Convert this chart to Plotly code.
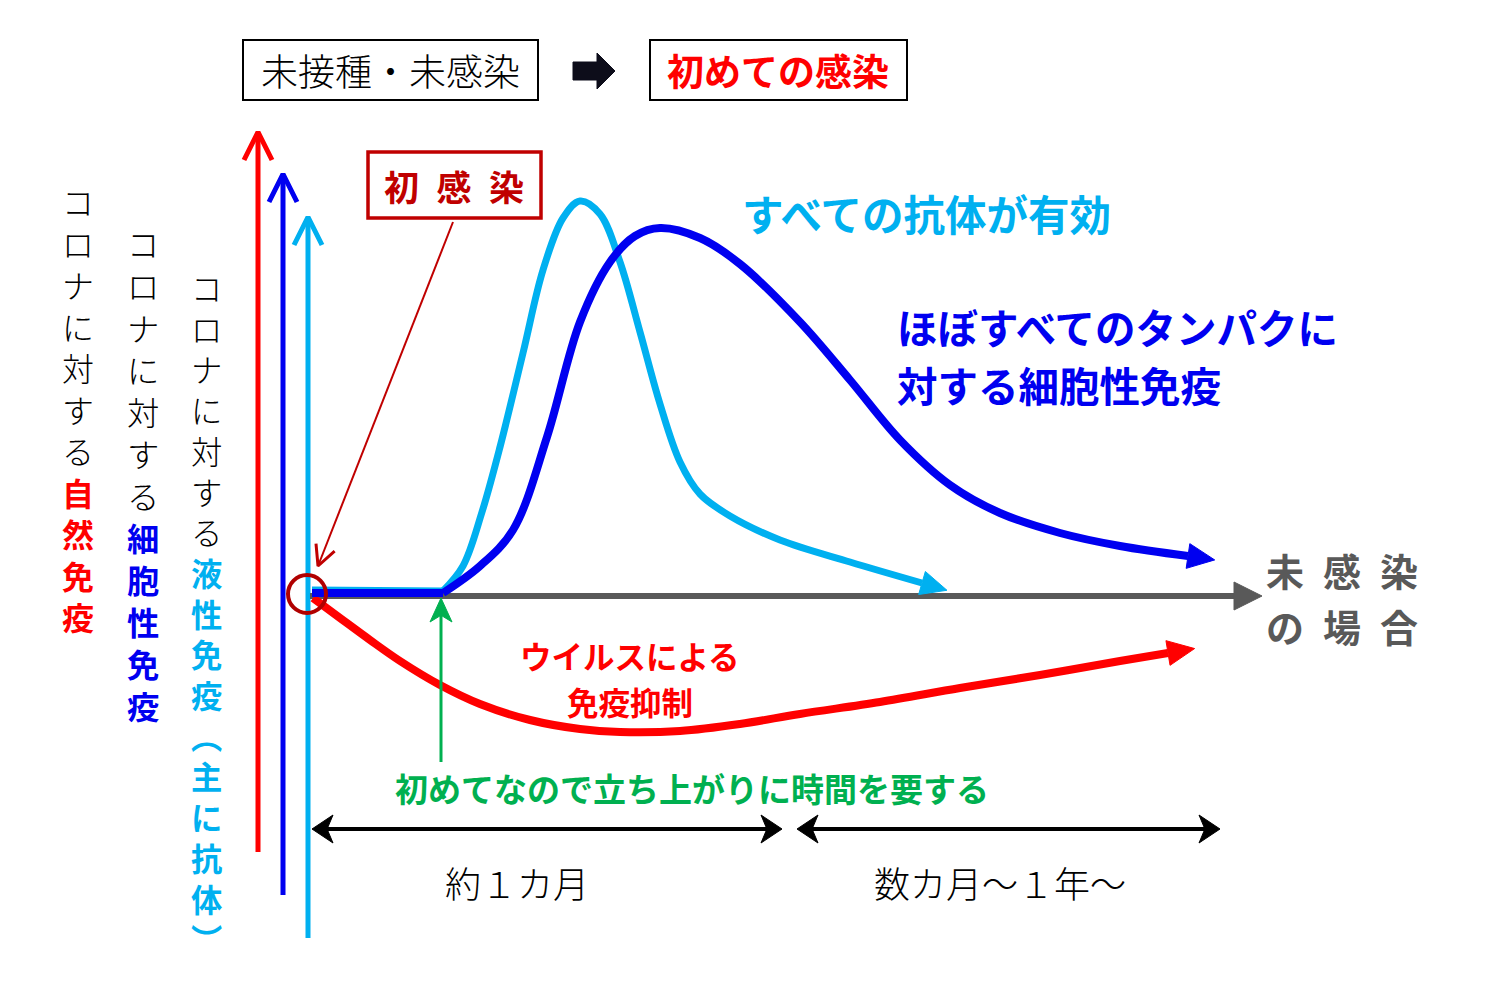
import math
import plotly.graph_objects as go

W, H = 1499, 999
FONT = "Noto Sans CJK JP"

# ---- data (diagram coordinates: x = time axis px, y = level px, y grows downward) ----
# humoral immunity (antibody) curve; the first ONSET points are the flat lag phase
antibody_x = [312, 443, 463, 482, 500, 523, 543, 563, 580, 600, 620, 640, 660, 680, 700, 730, 780, 850, 922]
antibody_y = [590, 591, 566, 512, 447, 353, 270, 218, 201, 214, 262, 332, 404, 462, 494, 516, 540, 562, 583]

# cellular immunity curve
cellular_x = [312, 443, 480, 513, 547, 580, 610, 635, 660, 700, 740, 800, 850, 900, 950, 1000, 1060, 1120, 1188]
cellular_y = [593, 593, 566, 530, 437, 322, 262, 236, 228, 238, 264, 322, 380, 440, 485, 513, 533, 546, 556]
ONSET = 2  # number of leading points forming the straight lag segment

# innate immunity (suppressed by the virus)
innate_x = [313, 340, 370, 400, 440, 480, 530, 580, 620, 680, 740, 800, 880, 960, 1040, 1120, 1168]
innate_y = [598, 618, 640, 661, 685, 704, 720, 729, 732, 731, 724, 714, 702, 688, 675, 661, 653]

time_axis_x = [310, 1234]
time_axis_y = [596, 596]

# vertical value axes: (x, bottom, top)
axis_red = [258, 852, 132]
axis_blue = [283, 895, 174]
axis_lblue = [308, 938, 217]

span1 = [312, 782]
span2 = [797, 1220]
span_y = 829

RED = "#FF0000"
BLUE = "#0000F0"
LBLUE = "#00B0F0"
DRED = "#C00000"
GRAY = "#595959"
GREEN = "#00B050"

fig = go.Figure()


def add_line(xs, ys, color, width, shape="linear"):
    fig.add_trace(go.Scatter(x=xs, y=ys, mode="lines", hoverinfo="skip",
                             line=dict(color=color, width=width, shape=shape, smoothing=1.0)))


def add_poly(xs, ys, color):
    fig.add_trace(go.Scatter(x=xs + [xs[0]], y=ys + [ys[0]], mode="lines", fill="toself",
                             fillcolor=color, hoverinfo="skip", line=dict(color=color, width=1)))


def unit(x0, y0, x1, y1):
    d = math.hypot(x1 - x0, y1 - y0)
    return (x1 - x0) / d, (y1 - y0) / d


def tri_head(x0, y0, x1, y1, length, half, color):
    ux, uy = unit(x0, y0, x1, y1)
    px, py = -uy, ux
    tx, ty = x1 + ux * length, y1 + uy * length
    add_poly([x1 + px * half, tx, x1 - px * half], [y1 + py * half, ty, y1 - py * half], color)


def stealth_head(x0, y0, tx, ty, length, half, color):
    ux, uy = unit(x0, y0, tx, ty)
    px, py = -uy, ux
    bx, by = tx - ux * length, ty - uy * length
    nx, ny = tx - ux * length * 0.72, ty - uy * length * 0.72
    add_poly([tx, bx + px * half, nx, bx - px * half], [ty, by + py * half, ny, by - py * half], color)


def chevron(x0, y0, tx, ty, length, half, color, width):
    ux, uy = unit(x0, y0, tx, ty)
    px, py = -uy, ux
    bx, by = tx - ux * length, ty - uy * length
    add_line([bx + px * half, tx, bx - px * half], [by + py * half, ty, by - py * half], color, width)


def add_curve(xs, ys, color, width, onset=0):
    if onset:
        add_line(xs[:onset], ys[:onset], color, width)
        add_line(xs[onset - 1:], ys[onset - 1:], color, width, "spline")
    else:
        add_line(xs, ys, color, width, "spline")


# vertical axes with open chevrons
for (ax, ab, at), col in [(axis_red, RED), (axis_blue, BLUE), (axis_lblue, LBLUE)]:
    add_line([ax, ax], [ab, at + 2], col, 5)
    chevron(ax, ab, ax, at, 28, 14, col, 5)

# time axis
add_line(time_axis_x, time_axis_y, GRAY, 6)
tri_head(time_axis_x[0], time_axis_y[0], time_axis_x[1], time_axis_y[1], 28, 14, GRAY)

# curves
add_curve(innate_x, innate_y, RED, 8)
tri_head(innate_x[-2], innate_y[-2], innate_x[-1], innate_y[-1], 27, 12.5, RED)

add_curve(antibody_x, antibody_y, LBLUE, 7, ONSET)
tri_head(antibody_x[-2], antibody_y[-2], antibody_x[-1], antibody_y[-1], 26, 12, LBLUE)

add_curve(cellular_x, cellular_y, BLUE, 8, ONSET)
tri_head(cellular_x[-2], cellular_y[-2], cellular_x[-1], cellular_y[-1], 27, 12.5, BLUE)

# green arrow (slow start)
add_line([441, 441], [762, 612], GREEN, 3)
stealth_head(441, 762, 441, 598, 24, 11, GREEN)

# pointer from 初感染 box
add_line([453, 318], [222, 566], DRED, 2)
chevron(453, 222, 318, 566, 20, 10, DRED, 3)

# duration double arrows
for a, b in [span1, span2]:
    add_line([a + 12, b - 12], [span_y, span_y], "black", 4)
    stealth_head(b, span_y, a, span_y, 21, 14, "black")
    stealth_head(a, span_y, b, span_y, 21, 14, "black")

# top block arrow
add_poly([573, 597, 597, 615, 597, 597, 573], [62, 62, 53, 71, 89, 80, 80], "#0d0d1a")

shapes = [
    dict(type="rect", x0=243, x1=538, y0=40, y1=100, line=dict(color="black", width=2)),
    dict(type="rect", x0=650, x1=907, y0=40, y1=100, line=dict(color="black", width=2)),
    dict(type="rect", x0=368, x1=541, y0=152, y1=218, line=dict(color=DRED, width=3.5)),
    dict(type="circle", x0=288, x1=326, y0=575, y1=613, line=dict(color="#B00000", width=4)),
]

ann = []


def txt(x, y, s, color="black", size=36, weight="bold", xanchor="center"):
    ann.append(dict(x=x, y=y, xref="x", yref="y", text=s, showarrow=False,
                    xanchor=xanchor, yanchor="middle", align=xanchor,
                    font=dict(family=FONT, size=size, color=color, weight=weight)))


txt(390, 70, "未接種・未感染", "black", 37, 300)
txt(778, 70, "初めての感染", RED, 37)
txt(454, 185, "初\u2002感\u2002染", DRED, 35)
txt(740, 213, "すべての抗体が有効", LBLUE, 41.5, xanchor="left")
txt(895, 326, "ほぼすべてのタンパクに", BLUE, 40.5, xanchor="left")
txt(895, 384, "対する細胞性免疫", BLUE, 40.5, xanchor="left")
txt(630, 655, "ウイルスによる", RED, 31.5)
txt(630, 701, "免疫抑制", RED, 31.5)
txt(692, 788, "初めてなので立ち上がりに時間を要する", GREEN, 33)
txt(517, 882, "約１カ月", "black", 36, 300)
txt(1000, 882, "数カ月～１年～", "black", 36, 300)
txt(1264, 569, "未\u2002感\u2002染", GRAY, 38, xanchor="left")
txt(1264, 625, "の\u2002場\u2002合", GRAY, 38, xanchor="left")

# vertical labels: one stacked text per column (plotly line pitch = 1.3 em)
columns = [
    ("コロナに対する", "自然免疫", RED, 78, 201, 41.5),
    ("コロナに対する", "細胞性免疫", BLUE, 143, 243, 42),
    ("コロナに対する", "液性免疫︵主に抗体︶", LBLUE, 206, 287, 40.7),
]
for plain, strong, col, cx, y0, step in columns:
    n = len(plain) + len(strong)
    stacked = "<br>".join(plain) + "<br>" + "<br>".join(
        f"<span style='color:{col}'><b>{ch}</b></span>" for ch in strong)
    size = step / 1.3
    ann.append(dict(x=cx, y=y0 + (n - 1) * step / 2, xref="x", yref="y", text=stacked,
                    showarrow=False, xanchor="center", yanchor="middle", align="center",
                    font=dict(family=FONT, size=size, color="black", weight=300)))

fig.update_layout(
    width=W, height=H, margin=dict(l=0, r=0, t=0, b=0),
    paper_bgcolor="white", plot_bgcolor="white", showlegend=False,
    xaxis=dict(range=[0, W], visible=False, fixedrange=True),
    yaxis=dict(range=[H, 0], visible=False, fixedrange=True),
    shapes=shapes, annotations=ann,
)

fig.write_html("out.html", config={"displayModeBar": False},
               post_script="document.body.style.margin='0';")
